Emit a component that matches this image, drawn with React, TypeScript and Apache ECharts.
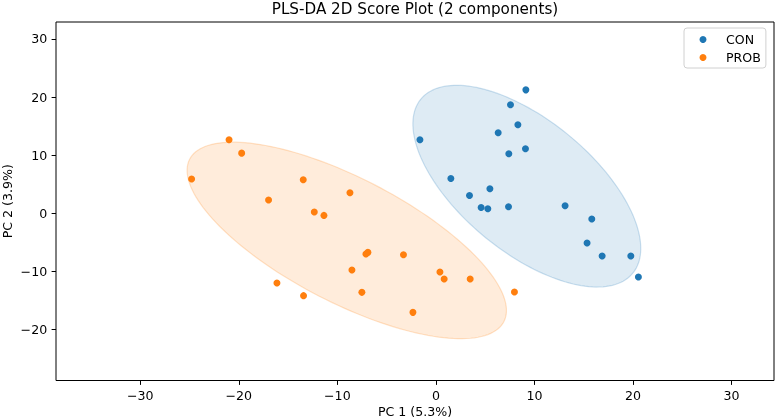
import React, { useEffect, useRef } from "react";
import * as echarts from "echarts";

const conX = [9.13, 7.57, 8.32, 6.32, -1.62, 9.09, 7.4, 1.52, 5.48, 3.41, 4.59, 5.27, 7.37, 13.11, 15.82, 15.34, 16.87, 19.78, 20.55];
const conY = [21.25, 18.68, 15.24, 13.87, 12.66, 11.12, 10.26, 6.01, 4.24, 3.09, 1.03, 0.81, 1.15, 1.32, -0.97, -5.09, -7.33, -7.33, -10.93];
const probX = [-20.99, -19.71, -24.79, -13.46, -8.72, -16.98, -12.34, -11.36, -6.9, -7.1, -8.52, -16.13, -13.43, -7.51, -3.29, 0.41, 0.84, 3.48, -2.33, 7.97];
const probY = [12.66, 10.37, 5.91, 5.79, 3.56, 2.3, 0.24, -0.34, -6.7, -6.98, -9.73, -11.96, -14.14, -13.57, -7.1, -10.07, -11.27, -11.27, -17.01, -13.51];
const groupNames = ["CON", "PROB"];
const groupColors = ["#1f77b4", "#ff7f0e"];
const groupFills = ["rgba(31,119,180,0.15)", "rgba(255,127,14,0.15)"];
const groupEdges = ["rgba(31,119,180,0.22)", "rgba(255,127,14,0.22)"];
const tickValues = [-30, -20, -10, 0, 10, 20, 30];
const yTickValues = [-20, -10, 0, 10, 20, 30];
const nStd = 1.94;

function ellipseOf(xs: number[], ys: number[]) {
  const n = xs.length;
  const mx = xs.reduce((a, b) => a + b, 0) / n;
  const my = ys.reduce((a, b) => a + b, 0) / n;
  let sxx = 0, syy = 0, sxy = 0;
  for (let i = 0; i < n; i++) {
    const dx = xs[i] - mx, dy = ys[i] - my;
    sxx += dx * dx; syy += dy * dy; sxy += dx * dy;
  }
  sxx /= n; syy /= n; sxy /= n;
  const tr = sxx + syy, det = sxx * syy - sxy * sxy;
  const disc = Math.sqrt(Math.max(0, (tr * tr) / 4 - det));
  const l1 = tr / 2 + disc, l2 = tr / 2 - disc;
  const ang = Math.atan2(l1 - sxx, sxy);
  return { mx, my, a: nStd * Math.sqrt(l1), b: nStd * Math.sqrt(l2), ang };
}

const fmt = (v: number) => String(v).replace("-", "\u2212");
const FONT = "DejaVu Sans";

export default function App() {
  const ref = useRef<HTMLDivElement>(null);
  useEffect(() => {
    if (!ref.current) return;
    const chart = echarts.init(ref.current, undefined, { renderer: "svg" });
    const ells = [ellipseOf(conX, conY), ellipseOf(probX, probY)];
    const pts = [conX.map((x, i) => [x, conY[i]]), probX.map((x, i) => [x, probY[i]])];
    chart.setOption({
      animation: false,
      textStyle: { fontFamily: FONT },
      title: {
        text: "PLS-DA 2D Score Plot (2 components)",
        left: 415,
        textAlign: "center",
        top: 1,
        padding: 0,
        textStyle: { fontFamily: FONT, fontSize: 15.2, fontWeight: "normal", color: "#000" },
      },
      legend: {
        left: 684,
        top: 28,
        orient: "vertical",
        icon: "circle",
        itemWidth: 7,
        itemHeight: 7,
        itemGap: 5,
        padding: [5, 5, 4, 15.5],
        backgroundColor: "#fff",
        borderColor: "#d0d0d0",
        borderWidth: 1,
        borderRadius: 3,
        data: groupNames,
        textStyle: { fontFamily: FONT, fontSize: 12.6, color: "#000", padding: [0, 0, 0, 14.5] },
      },
      grid: {
        left: 56,
        right: 2,
        top: 22,
        bottom: 39.5,
        containLabel: false,
        outerBoundsMode: "none",
        show: true,
        borderColor: "#000",
        borderWidth: 1,
        backgroundColor: "transparent",
      },
      xAxis: {
        type: "value",
        min: -38.55,
        max: 34.31,
        name: "PC 1 (5.3%)",
        nameLocation: "middle",
        nameGap: 24.5,
        nameMoveOverlap: false,
        nameTextStyle: { fontFamily: FONT, fontSize: 12.6, color: "#000" },
        axisLine: { show: false, onZero: false },
        axisTick: { show: true, length: 4.4, customValues: tickValues, lineStyle: { color: "#000", width: 1 } },
        axisLabel: { customValues: tickValues, margin: 8.8, formatter: fmt, fontFamily: FONT, fontSize: 12.6, color: "#000" },
        splitLine: { show: false },
      },
      yAxis: {
        type: "value",
        min: -28.73,
        max: 32.92,
        name: "PC 2 (3.9%)",
        nameLocation: "middle",
        nameGap: 42,
        nameMoveOverlap: false,
        nameTextStyle: { fontFamily: FONT, fontSize: 12.6, color: "#000" },
        axisLine: { show: false, onZero: false },
        axisTick: { show: true, length: 4.4, customValues: yTickValues, lineStyle: { color: "#000", width: 1 } },
        axisLabel: { customValues: yTickValues, margin: 8.8, formatter: fmt, fontFamily: FONT, fontSize: 12.6, color: "#000" },
        splitLine: { show: false },
      },
      series: [
        {
          type: "custom",
          name: "ellipses",
          clip: true,
          silent: true,
          data: ells.map((e) => [e.mx, e.my]),
          encode: { x: 0, y: 1 },
          z: 1,
          renderItem: (params: any, api: any) => {
            const e = ells[params.dataIndex];
            const points: number[][] = [];
            const N = 160;
            for (let k = 0; k < N; k++) {
              const t = (2 * Math.PI * k) / N;
              const ux = e.a * Math.cos(t), uy = e.b * Math.sin(t);
              const x = e.mx + ux * Math.cos(e.ang) - uy * Math.sin(e.ang);
              const y = e.my + ux * Math.sin(e.ang) + uy * Math.cos(e.ang);
              points.push(api.coord([x, y]));
            }
            return {
              type: "polygon",
              shape: { points },
              style: { fill: groupFills[params.dataIndex], stroke: groupEdges[params.dataIndex], lineWidth: 1.2 },
            };
          },
        },
        ...groupNames.map((name, g) => ({
          type: "scatter",
          name,
          data: pts[g],
          symbol: "circle",
          symbolSize: 7,
          itemStyle: { color: groupColors[g], opacity: 1 },
          z: 3,
        })),
      ],
    });
    return () => chart.dispose();
  }, []);
  return <div ref={ref} style={{ position: "fixed", left: 0, top: 0, width: 776, height: 420 }} />;
}
